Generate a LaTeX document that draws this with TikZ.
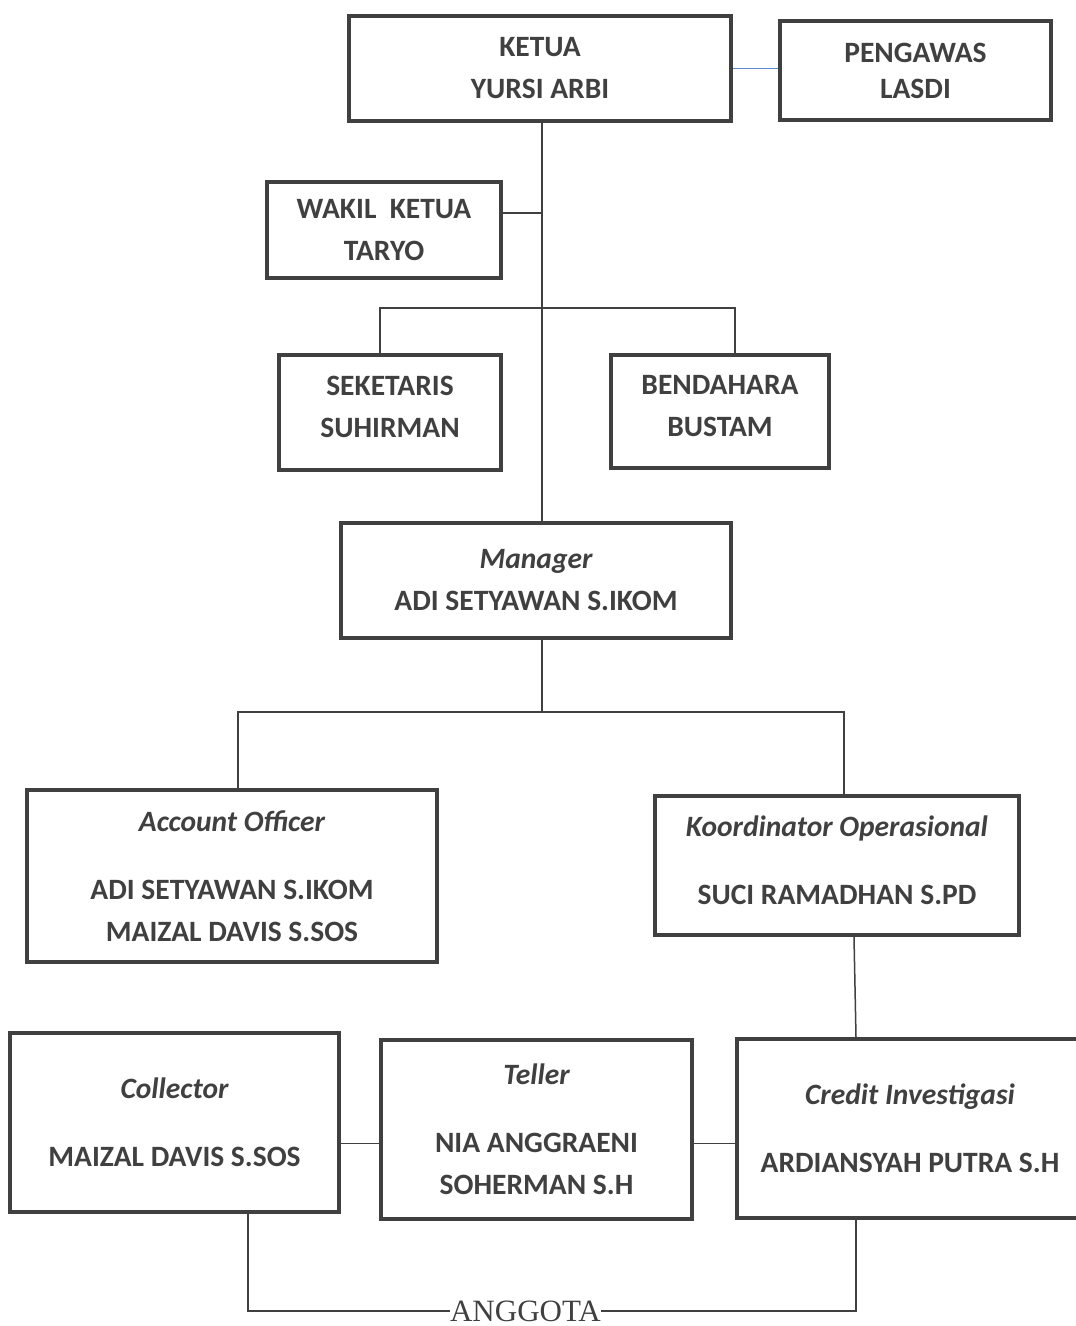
\documentclass[tikz,border=0pt]{standalone}
\usepackage{fontspec}
\setmainfont{Carlito}
\newfontfamily\anggfont{Liberation Serif}
\definecolor{ink}{HTML}{404040}
\definecolor{blueline}{HTML}{5B8BD0}
\begin{document}
\begin{tikzpicture}[x=1pt,y=-1pt,
  box/.style={draw=ink, line width=4pt, inner sep=0pt, align=center, text=ink,
    font=\fontsize{29.5}{42}\selectfont\bfseries},
  lbl/.style={inner sep=0pt, align=center, text=ink,
    font=\fontsize{29.5}{42}\selectfont\bfseries},
  conn/.style={draw=ink, line width=1.5pt}]
\useasboundingbox (0,0) rectangle (1076,1326);
\fill[white] (0,0) rectangle (1076,1326);
\coordinate (tx) at (542,0);
\coordinate (b1) at (0,308);
\coordinate (b2) at (0,712);

\node[box, minimum width=382pt, minimum height=105pt] (ketua) at (540,68.5) {KETUA\\YURSI ARBI};
\node[box, minimum width=271pt, minimum height=99pt, font=\fontsize{29.5}{36}\selectfont\bfseries] (pengawas) at (915.5,70.5) {PENGAWAS\\LASDI};
\node[box, minimum width=234pt, minimum height=96pt] (wakil) at (384,230) {WAKIL\ \ KETUA\\TARYO};
\node[box, minimum width=222pt, minimum height=115pt] (sek) at (390,412.5) {};
\node[lbl] (sektext) at ([yshift=6pt]sek.center) {SEKETARIS\\SUHIRMAN};
\node[box, minimum width=218pt, minimum height=113pt] (bend) at (720,411.5) {};
\node[lbl] (bendtext) at ([yshift=5pt]bend.center) {BENDAHARA\\BUSTAM};
\node[box, minimum width=390pt, minimum height=115pt] (mgr) at (536,580.5) {\itshape Manager\\ADI SETYAWAN S.IKOM};
\node[box, minimum width=410pt, minimum height=172pt] (ao) at (232,876) {\itshape Account Officer\\[26pt]ADI SETYAWAN S.IKOM\\MAIZAL DAVIS S.SOS};
\node[box, minimum width=364pt, minimum height=139pt] (ko) at (837,865.5) {};
\node[lbl] (kotext) at ([yshift=5pt]ko.center) {\itshape Koordinator Operasional\\[26pt]SUCI RAMADHAN S.PD};
\node[box, minimum width=329pt, minimum height=179pt] (col) at (174.5,1122.5) {\itshape Collector\\[26pt]MAIZAL DAVIS S.SOS};
\node[box, minimum width=311pt, minimum height=179pt] (tel) at (536.5,1129.5) {\itshape Teller\\[26pt]NIA ANGGRAENI\\SOHERMAN S.H};
\node[box, minimum width=346pt, minimum height=179pt] (ci) at (910,1128.5) {\itshape Credit Investigasi\\[26pt]ARDIANSYAH PUTRA S.H};

\draw[draw=blueline, line width=1.5pt] (ketua.east) -- (ketua.east -| pengawas.west);
\draw[conn] (ketua.south -| tx) -- (mgr.north -| tx);
\draw[conn] ([yshift=17pt]wakil.east) -- ([yshift=17pt]wakil.east -| tx);
\draw[conn] ([xshift=-10pt]sek.north) |- ([xshift=15pt]bend.north |- b1) -- ([xshift=15pt]bend.north);
\draw[conn] (mgr.south -| tx) -- (tx |- b2);
\draw[conn] ([xshift=6pt]ao.north) |- ([xshift=7pt]ko.north |- b2) -- ([xshift=7pt]ko.north);
\draw[conn] ([xshift=17pt]ko.south) -- ([xshift=-54pt]ci.north);
\draw[conn] ([yshift=-14pt]tel.west) -- ([yshift=-14pt]tel.west -| col.east);
\draw[conn] ([yshift=-14pt]tel.east) -- ([yshift=-14pt]tel.east -| ci.west);

\node[anchor=base, inner sep=0pt, text=ink, font=\anggfont\fontsize{31}{31}\selectfont] (anggota) at (525.5,1321) {ANGGOTA};
\draw[conn] ([xshift=73.5pt]col.south) |- (anggota.west);
\draw[conn] (anggota.east) -| ([xshift=-54pt]ci.south);
\end{tikzpicture}
\end{document}
